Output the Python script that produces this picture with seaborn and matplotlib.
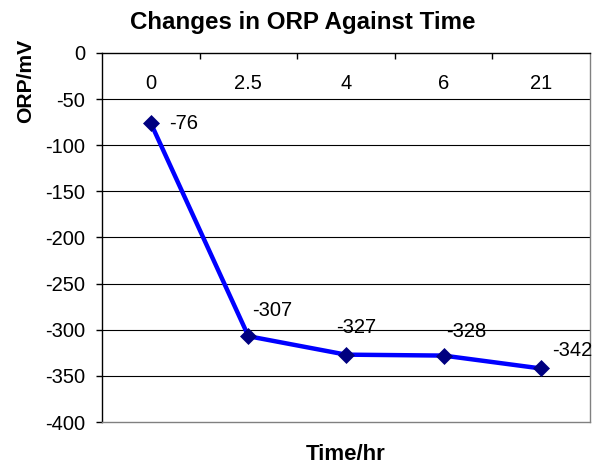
import numpy as np
import pandas as pd
import matplotlib
matplotlib.use("Agg")
import matplotlib.pyplot as plt
import seaborn as sns

# ---- data ----
times = ["0", "2.5", "4", "6", "21"]
orp_values = [-76, -307, -327, -328, -342]
y_ticks = [-400, -350, -300, -250, -200, -150, -100, -50, 0]

# label offsets (points) for the data labels
label_offsets = [(13.5, 0), (3, 18.7), (-7.2, 19.8), (2, 17), (7.7, 13)]

sns.set_style("white")
plt.rcParams["font.family"] = ["Liberation Sans", "DejaVu Sans"]
plt.rcParams.update({"text.color": "black", "axes.labelcolor": "black",
                     "xtick.color": "black", "ytick.color": "black"})

FS = 14.5
W, H = 605, 465
fig = plt.figure(figsize=(W / 100, H / 100), dpi=100)
L, R, T, B = 102, 590, 53, 422
ax = fig.add_axes([L / W, 1 - B / H, (R - L) / W, (B - T) / H])

df = pd.DataFrame({"pos": np.arange(len(times)), "orp": orp_values, "time": times})

sns.lineplot(data=df, x="pos", y="orp", color="#0000FF", lw=3.2, ax=ax, zorder=3)
sns.scatterplot(data=df, x="pos", y="orp", marker="D", color="#000080", s=75,
                linewidth=0, ax=ax, zorder=4)

for (p, v), off in zip(zip(df["pos"], df["orp"]), label_offsets):
    ax.annotate(str(v), xy=(p, v), xytext=off, textcoords="offset points",
                ha="left", va="center", fontsize=FS, color="black", zorder=5)

ax.set_xlim(-0.5, len(times) - 0.5)
ax.set_ylim(min(y_ticks), max(y_ticks))

# category axis at the top (crossing at 0)
ax.xaxis.tick_top()
ax.set_xticks(df["pos"])
ax.set_xticklabels(times, fontsize=FS)
ax.set_xticks(np.arange(0.5, len(times) - 1, 1), minor=True)
ax.tick_params(axis="x", which="major", length=0, pad=-29, top=True, bottom=False)
ax.tick_params(axis="x", which="minor", direction="in", length=4.5, width=1,
               color="black", top=True, bottom=False)

ax.set_yticks(y_ticks)
ax.set_yticklabels([str(t) for t in y_ticks], fontsize=FS)
ax.tick_params(axis="y", which="major", direction="out", length=4, width=1,
               color="black", pad=8, left=True)

ax.yaxis.grid(True, color="black", lw=0.8)
ax.set_axisbelow(True)
gl = ax.yaxis.get_gridlines()
gl[0].set_visible(False)
gl[-1].set_visible(False)

for s in ["left", "top"]:
    ax.spines[s].set_color("black")
    ax.spines[s].set_linewidth(1)
for s in ["right", "bottom"]:
    ax.spines[s].set_color("#808080")
    ax.spines[s].set_linewidth(1)

ax.set_xlabel("Time/hr", fontsize=16, fontweight="bold", color="black")
ax.xaxis.set_label_position("bottom")
ax.xaxis.set_label_coords(0.5, (B - 454) / (B - T))
ax.xaxis.label.set_va("center")

ax.set_ylabel("ORP/mV", fontsize=15.2, fontweight="bold", color="black")
ax.yaxis.set_label_coords((26 - L) / (R - L), (B - 81) / (B - T))
ax.yaxis.label.set_va("center")
ax.yaxis.label.set_ha("center")

fig.suptitle("Changes in ORP Against Time", x=0.5, y=1 - 22 / H, va="center",
             fontsize=17.4, fontweight="bold", color="black")

fig.savefig("out.png", dpi=100, facecolor="white")
